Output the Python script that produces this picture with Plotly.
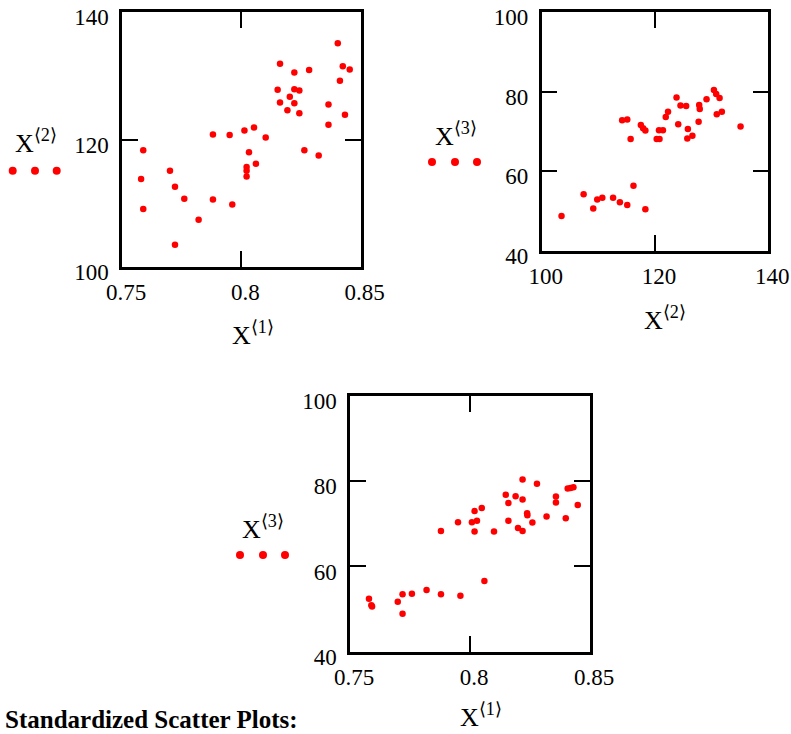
import plotly.graph_objects as go

# Panel 1: X<1> vs X<2>
p1_x1 = [0.8404, 0.8162, 0.8222, 0.8284, 0.8425, 0.8454, 0.8413, 0.8152, 0.8222, 0.8243,
         0.8203, 0.8162, 0.8222, 0.8193, 0.8243, 0.8365, 0.8434, 0.8365, 0.7881, 0.7951,
         0.8013, 0.8053, 0.8102, 0.7589, 0.8032, 0.8264, 0.8324, 0.8061, 0.8022, 0.8022,
         0.8022, 0.7701, 0.7580, 0.7722, 0.7761, 0.7881, 0.7962, 0.7589, 0.7821, 0.7722]
p1_x2 = [135.1, 131.9, 130.5, 130.9, 131.5, 131.0, 129.2, 127.8, 127.9, 127.7,
         126.7, 125.8, 125.7, 124.6, 124.1, 125.5, 123.9, 122.3, 120.8, 120.7,
         121.4, 121.9, 120.3, 118.3, 118.0, 118.3, 117.5, 116.2, 115.7, 115.1,
         114.2, 115.1, 113.8, 112.6, 110.7, 110.6, 109.8, 109.1, 107.4, 103.5]

# Panel 2: X<2> vs X<3>
p2_x2 = [103.5, 107.4, 109.1, 109.8, 110.7, 112.6, 113.8, 115.1, 116.2, 118.3,
         114.2, 115.1, 115.7, 117.5, 117.9, 118.3, 120.3, 120.8, 120.7, 121.4,
         121.9, 122.3, 123.8, 124.1, 124.5, 125.5, 125.7, 125.8, 126.6, 127.7,
         127.8, 127.9, 129.1, 130.4, 130.8, 131.4, 130.9, 131.8, 135.1]
p2_x3 = [48.7, 54.2, 50.6, 52.9, 53.3, 53.3, 52.2, 51.5, 56.3, 50.4,
         72.8, 73.0, 68.1, 71.6, 70.8, 70.2, 68.1, 68.1, 70.3, 70.3,
         73.6, 74.9, 78.5, 71.8, 76.5, 76.4, 68.2, 70.6, 68.9, 72.4,
         76.6, 75.6, 78.1, 80.4, 79.4, 78.4, 74.3, 74.9, 71.2]

# Panel 3: X<1> vs X<3>
p3_x1 = [0.7579, 0.7589, 0.7592, 0.7699, 0.7719, 0.7719, 0.7758, 0.7819, 0.7879, 0.7960,
         0.8060, 0.7879, 0.7950, 0.8008, 0.8019, 0.8019, 0.8029, 0.8049, 0.8100, 0.8149,
         0.8160, 0.8160, 0.8190, 0.8200, 0.8219, 0.8219, 0.8219, 0.8238, 0.8239, 0.8260,
         0.8279, 0.8319, 0.8358, 0.8358, 0.8399, 0.8407, 0.8419, 0.8431, 0.8449]
p3_x3 = [52.4, 50.9, 50.6, 51.7, 53.5, 48.9, 53.6, 54.5, 53.5, 53.1,
         56.6, 68.3, 70.4, 70.4, 73.0, 68.2, 70.7, 73.7, 68.2, 76.8,
         74.9, 70.7, 76.5, 69.0, 80.4, 75.7, 68.3, 72.5, 72.0, 70.3,
         79.4, 71.7, 76.4, 75.0, 71.3, 78.3, 78.4, 78.6, 74.4]

x1_ticks = [0.75, 0.8, 0.85]
x1_labels = ["0.75", "0.8", "0.85"]
x2_ticks = [100, 120, 140]
x3_ticks = [40, 60, 80, 100]

W, H = 791, 734
FONT = "Liberation Serif"
RED = "#ff0000"

def px(x):
    return x / W

def py(y):
    return 1 - y / H

fig = go.Figure()
fig.add_trace(go.Scatter(x=p1_x1, y=p1_x2, mode="markers", xaxis="x", yaxis="y",
                         marker=dict(color=RED, size=6.5), showlegend=False))
fig.add_trace(go.Scatter(x=p2_x2, y=p2_x3, mode="markers", xaxis="x2", yaxis="y2",
                         marker=dict(color=RED, size=6.5), showlegend=False))
fig.add_trace(go.Scatter(x=p3_x1, y=p3_x3, mode="markers", xaxis="x3", yaxis="y3",
                         marker=dict(color=RED, size=6.5), showlegend=False))


def axis(domain, rng, tickvals, anchor, ticktext=None, horizontal=True):
    d = dict(showline=True, linecolor="black", linewidth=2.5, mirror="allticks",
             ticks="inside", ticklen=16, tickwidth=2, tickcolor="black",
             showgrid=False, zeroline=False, fixedrange=True, automargin=False,
             tickfont=dict(family=FONT, size=23, color="black"),
             ticklabeloverflow="allow",
             domain=domain, range=rng, tickvals=tickvals, anchor=anchor)
    if horizontal:
        d["ticklabelstandoff"] = 3
        d["ticklabelshift"] = 4
    else:
        d["ticklabelstandoff"] = 6
        d["ticklabelshift"] = 5
    if ticktext is not None:
        d["ticktext"] = ticktext
    return d


fig.update_layout(
    width=W, height=H, margin=dict(l=0, r=0, t=0, b=0, pad=0), autosize=False,
    paper_bgcolor="white", plot_bgcolor="white",
    font=dict(family=FONT, size=22, color="black"),
    xaxis=axis([px(122), px(360.7)], [0.75, 0.85], x1_ticks, "y", x1_labels, True),
    yaxis=axis([py(267), py(12)], [100, 140], x2_ticks, "x", None, False),
    xaxis2=axis([px(541.7), px(768.3)], [100, 140], x2_ticks, "y2", None, True),
    yaxis2=axis([py(250.7), py(12)], [40, 100], x3_ticks, "x2", None, False),
    xaxis3=axis([px(350), px(590)], [0.75, 0.85], x1_ticks, "y3", x1_labels, True),
    yaxis3=axis([py(651.7), py(396)], [40, 100], x3_ticks, "x3", None, False),
)


def label(text, x, y, size=26):
    fig.add_annotation(text=text, x=px(x), y=py(y), xref="paper", yref="paper",
                       showarrow=False, xanchor="center", yanchor="middle",
                       font=dict(family=FONT, size=size, color="black"))


# axis titles
label("X<sup>⟨1⟩</sup>", 253, 333)
label("X<sup>⟨2⟩</sup>", 665, 318)
label("X<sup>⟨2⟩</sup>", 36, 142)
label("X<sup>⟨3⟩</sup>", 456, 134)
label("X<sup>⟨3⟩</sup>", 263, 527)
label("X<sup>⟨1⟩</sup>", 481, 715)

# legend-style marker samples
for (cx, cy) in [(12.7, 170.7), (35, 170.7), (56.7, 170.7),
                 (432, 162), (455, 162), (477, 162),
                 (240, 555), (263, 555), (285, 555)]:
    r = 4
    fig.add_shape(type="circle", xref="paper", yref="paper",
                  x0=px(cx - r), x1=px(cx + r), y0=py(cy + r), y1=py(cy - r),
                  fillcolor=RED, line=dict(width=0))

fig.add_annotation(text="<b>Standardized Scatter Plots:</b>", x=px(3), y=py(719),
                   xref="paper", yref="paper", showarrow=False,
                   xanchor="left", yanchor="middle",
                   font=dict(family=FONT, size=25, color="black"))

fig.write_html("out.html",
               post_script="document.body.style.margin='0';document.body.style.overflow='hidden';")
